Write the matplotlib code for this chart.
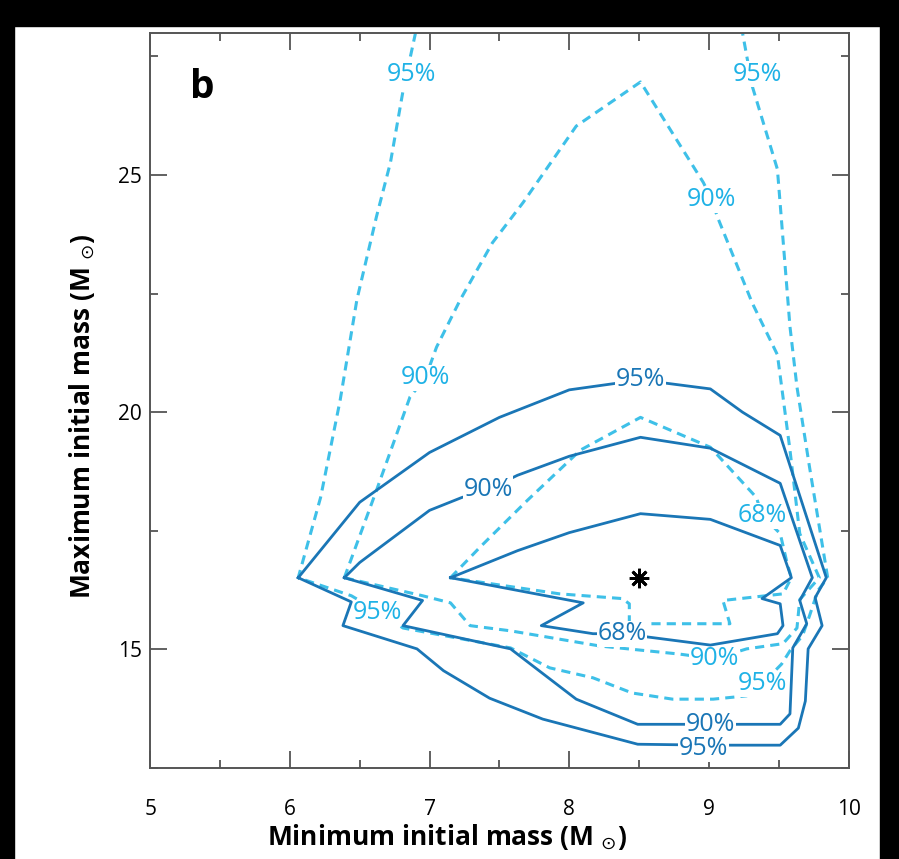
import matplotlib.pyplot as plt
from matplotlib.patches import Rectangle
from matplotlib.ticker import MultipleLocator

plt.rcParams['font.family'] = ['Open Sans', 'DejaVu Sans']
plt.rcParams['mathtext.fontset'] = 'dejavusans'

DARK = '#1a76b6'
LIGHT = '#3ec0e8'
LIGHT_TXT = '#1fb2e6'

# solid contours (x = minimum initial mass, y = maximum initial mass)
solid95_x = [6.06, 6.50, 7.00, 7.50, 8.00, 8.51, 9.01, 9.24, 9.51, 9.84, 9.76, 9.81, 9.71,
             9.69, 9.64, 9.51, 9.01, 8.49, 7.81, 7.43, 7.10, 6.91, 6.38, 6.44, 6.06]
solid95_y = [16.51, 18.10, 19.15, 19.89, 20.47, 20.68, 20.49, 20.00, 19.51, 16.51, 16.09, 15.50, 15.01,
             13.91, 13.34, 12.98, 12.98, 13.00, 13.53, 13.97, 14.55, 15.01, 15.50, 16.00, 16.51]

solid90_x = [6.39, 6.50, 7.00, 7.23, 7.42, 7.63, 8.00, 8.51, 9.01, 9.51, 9.74, 9.65, 9.70, 9.60,
             9.58, 9.51, 9.01, 8.49, 8.05, 7.58, 6.81, 6.95, 6.39]
solid90_y = [16.51, 16.83, 17.93, 18.20, 18.37, 18.67, 19.07, 19.47, 19.24, 18.50, 16.51, 16.03, 15.54, 15.03,
             13.64, 13.42, 13.42, 13.42, 13.95, 15.01, 15.50, 16.03, 16.51]

solid68_x = [7.15, 7.63, 8.00, 8.51, 9.01, 9.51, 9.59, 9.38, 9.51, 9.53, 9.49, 9.01, 8.38,
             8.17, 7.80, 8.10, 7.15]
solid68_y = [16.51, 17.08, 17.46, 17.86, 17.74, 17.19, 16.51, 16.07, 15.96, 15.50, 15.33, 15.09, 15.33,
             15.33, 15.50, 15.98, 16.51]

# dashed contours
dash95_x = [6.90, 6.81, 6.72, 6.62, 6.48, 6.36, 6.22, 6.06, 6.44, 6.65, 6.81, 7.58, 7.86, 8.17,
            8.45, 8.74, 9.03, 9.27, 9.38, 9.52, 9.58, 9.67, 9.72, 9.78, 9.85, 9.72, 9.63, 9.58,
            9.49, 9.31, 9.24]
dash95_y = [28.0, 26.77, 25.26, 24.12, 22.37, 20.25, 18.20, 16.51, 16.13, 15.77, 15.45, 15.03, 14.61, 14.40,
            14.08, 13.95, 13.95, 14.02, 14.27, 14.69, 14.97, 15.29, 15.71, 16.24, 16.51, 18.84, 20.53, 21.80,
            25.12, 26.87, 28.0]

dash90_x = [6.39, 6.62, 6.86, 6.97, 7.05, 7.22, 7.45, 7.67, 8.05, 8.51, 8.96, 9.02, 9.06, 9.31,
            9.49, 9.53, 9.58, 9.65, 9.79, 9.65, 9.63, 9.53, 9.27, 9.04, 8.79, 8.22, 7.58, 7.29,
            7.15, 6.95, 6.39]
dash90_y = [16.51, 18.35, 20.32, 20.72, 21.37, 22.37, 23.57, 24.42, 26.03, 26.96, 24.84, 24.48, 24.12, 22.30,
            21.21, 20.32, 19.20, 17.44, 16.51, 16.05, 15.45, 15.12, 15.01, 14.80, 14.90, 15.07, 15.39, 15.50,
            15.98, 16.13, 16.51]

dash68_x = [7.15, 7.36, 7.70, 8.08, 8.51, 9.01, 9.34, 9.38, 9.51, 9.56, 9.59, 9.53, 9.10, 9.15,
            8.43, 8.43, 8.38, 7.93, 7.15]
dash68_y = [16.51, 17.15, 18.14, 19.20, 19.89, 19.26, 18.20, 17.82, 17.44, 16.81, 16.51, 16.17, 16.03, 15.54,
            15.54, 15.96, 16.07, 16.17, 16.51]

# contour labels
dark_lbl_x = [8.51, 7.42, 8.38, 9.01, 8.96]
dark_lbl_y = [20.68, 18.37, 15.33, 13.42, 12.90]
dark_lbl_t = ['95%', '90%', '68%', '90%', '95%']

light_lbl_x = [6.87, 9.35, 9.02, 6.97, 9.38, 6.63, 9.04, 9.38]
light_lbl_y = [27.12, 27.12, 24.48, 20.72, 17.82, 15.77, 14.80, 14.27]
light_lbl_t = ['95%', '95%', '90%', '90%', '68%', '95%', '90%', '95%']

best_x, best_y = 8.5, 16.5

fig = plt.figure(figsize=(8.99, 8.59), dpi=100)
ax = fig.add_axes([0.167, 0.106, 0.777, 0.856])

for xs, ys in [(dash95_x, dash95_y), (dash90_x, dash90_y), (dash68_x, dash68_y)]:
    ax.plot(xs, ys, color=LIGHT, lw=2.2, dashes=(3, 2), zorder=1)
for x, y, t in zip(light_lbl_x, light_lbl_y, light_lbl_t):
    ax.text(x, y, t, color=LIGHT_TXT, fontsize=18, ha='center', va='center', zorder=2,
            bbox=dict(facecolor='white', edgecolor='none', pad=0.3))

for xs, ys in [(solid95_x, solid95_y), (solid90_x, solid90_y), (solid68_x, solid68_y)]:
    ax.plot(xs, ys, color=DARK, lw=2.0, zorder=3)
for x, y, t in zip(dark_lbl_x, dark_lbl_y, dark_lbl_t):
    ax.text(x, y, t, color=DARK, fontsize=18, ha='center', va='center', zorder=4,
            bbox=dict(facecolor='white', edgecolor='none', pad=0.3))

ax.plot(best_x, best_y, marker=(8, 2, 0), color='black', markersize=14, mew=2, zorder=5)

ax.text(0.074, 0.925, 'b', transform=ax.transAxes, fontsize=28, fontweight='bold',
        ha='center', va='center')

ax.set_xlim(5, 10)
ax.set_ylim(12.5, 28)
ax.xaxis.set_major_locator(MultipleLocator(1))
ax.xaxis.set_minor_locator(MultipleLocator(0.5))
ax.yaxis.set_major_locator(MultipleLocator(5))
ax.yaxis.set_minor_locator(MultipleLocator(2.5))
ax.tick_params(which='both', direction='in', top=True, right=True, color='#555555', width=1.3)
ax.tick_params(which='major', length=12)
ax.tick_params(which='minor', length=6)
ax.tick_params(axis='x', which='major', pad=22, labelsize=15)
ax.tick_params(axis='y', which='major', pad=6, labelsize=15)
for s in ax.spines.values():
    s.set_color('#555555')
    s.set_linewidth(1.4)

ax.set_xlabel(r'Minimum initial mass (M $_{\odot}$)', fontsize=19, fontweight='bold')
ax.xaxis.set_label_coords(0.425, -0.074)
ax.set_ylabel(r'Maximum initial mass (M $_{\odot}$)', fontsize=19, fontweight='bold')
ax.yaxis.set_label_coords(-0.076, 0.479)

# black frame round the scanned figure
fig.add_artist(Rectangle((0, 1 - 26 / 859), 1, 26 / 859, color='black', transform=fig.transFigure))
fig.add_artist(Rectangle((0, 0), 14 / 899, 1, color='black', transform=fig.transFigure))
fig.add_artist(Rectangle((880 / 899, 0), 19 / 899, 1, color='black', transform=fig.transFigure))

fig.savefig('out.png', dpi=100)
